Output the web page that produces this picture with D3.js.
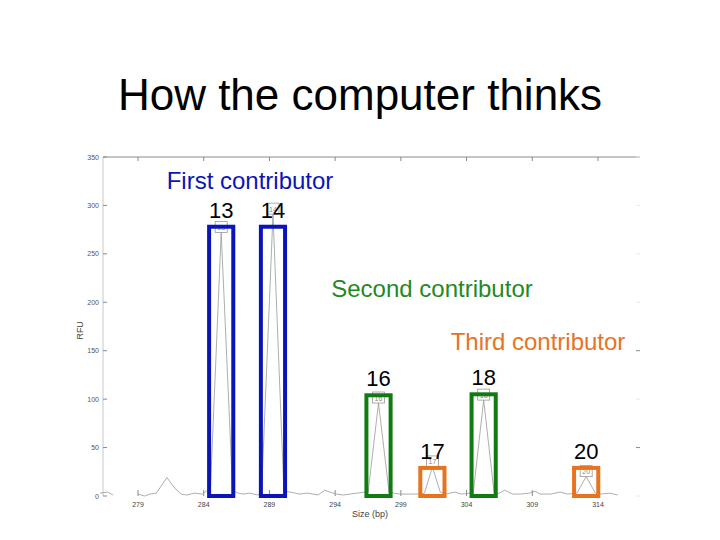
<!DOCTYPE html>
<html><head><meta charset="utf-8">
<script src="https://cdn.jsdelivr.net/npm/d3@7"></script>
<style>
html,body{margin:0;padding:0;background:#fff;}
svg{display:block;font-family:"Liberation Sans",Arial,sans-serif;}
</style></head>
<body><svg id="c" width="720" height="540"></svg>
<script>
// ---- data ----
const title = "How the computer thinks";
const xTicks = [279, 284, 289, 294, 299, 304, 309, 314];
const yTicks = [0, 50, 100, 150, 200, 250, 300, 350];
// electropherogram trace: size (bp) and RFU
const traceBp  = [276.1,276.7,277.1, 279.0,279.5,279.9,280.4,281.2,281.8,282.3,282.7,283.3,283.9,284.3,284.5,285.33,286.2,286.6,287.0,287.5,288.1,288.4,289.27,290.1,290.6,291.3,291.9,292.7,293.2,293.6,294.1,294.6,295.1,295.7,296.2,296.5,297.3,298.1,298.5,298.9,299.7,300.5,300.8,301.4,302.0,302.4,303.1,303.6,304.3,304.5,305.3,306.1,306.5,306.9,307.5,308.1,308.8,309.2,309.6,310.4,311.1,311.7,312.4,313.1,313.8,314.2,314.9,315.5];
const traceRfu = [3,4,1, 2,0,2,3,19,8,2,1,3,2,6,4,272,6,3,2,3,1,3,291,5,4,2,3,1,6,4,2,1,2,3,4,3,96,4,3,2,2,2,3,30,4,2,4,2,3,2,99,3,3,6,2,2,3,5,2,2,4,2,3,20,3,2,3,1];
const traceGaps = [2]; // index after which the trace is interrupted
// called alleles
const alleleNames = ["13","14","16","17","18","20"];
const alleleBp    = [285.33, 289.27, 297.3, 301.4, 305.3, 313.1];
const allelePeak  = [272, 291, 96, 30, 99, 20];
const boxTop      = [278, 278, 104, 29, 105, 29];
const alleleGroup = [0, 0, 1, 2, 1, 2];
const contributors = ["First contributor", "Second contributor", "Third contributor"];

// ---- drawing ----
const svg = d3.select("#c");
const x = d3.scaleLinear().domain([279, 314]).range([138, 598]);
const y = d3.scaleLinear().domain([0, 350]).range([496, 157]);
const xLeft = 103, xRight = 640;
const groupStroke = ["#0a14b8", "#127a12", "#e8731e"];
const groupText   = ["#0a14b8", "#1f8a1f", "#e8731e"];
const axisCol = "#8a8a8a";

svg.append("text").attr("x", 360).attr("y", 110).attr("text-anchor", "middle")
  .attr("font-size", 44).attr("fill", "#000").text(title);

// frame: top line and left line
svg.append("line").attr("x1", xLeft).attr("x2", xRight).attr("y1", y(350)).attr("y2", y(350))
  .attr("stroke", axisCol).attr("stroke-width", 1);
svg.append("line").attr("x1", xLeft).attr("x2", xLeft).attr("y1", y(350)).attr("y2", y(0))
  .attr("stroke", "#c8c8c8").attr("stroke-width", 1);

// y axis ticks + labels
const yAx = svg.append("g");
yTicks.forEach(t => {
  yAx.append("line").attr("x1", xLeft).attr("x2", xLeft + 4).attr("y1", y(t)).attr("y2", y(t))
    .attr("stroke", axisCol);
  yAx.append("line").attr("x1", xRight - 4).attr("x2", xRight).attr("y1", y(t)).attr("y2", y(t))
    .attr("stroke", t === 150 || t === 50 ? axisCol : "#e8e8e8");
  yAx.append("text").attr("x", xLeft - 4).attr("y", y(t) + 2.5).attr("text-anchor", "end")
    .attr("font-size", 7).attr("fill", "#555").text(t);
});
svg.append("text").attr("transform", "translate(83," + y(171) + ") rotate(-90)")
  .attr("text-anchor", "middle").attr("font-size", 9).attr("fill", "#444").text("RFU");

// x axis ticks + labels
const xAx = svg.append("g");
xTicks.forEach(t => {
  xAx.append("line").attr("x1", x(t)).attr("x2", x(t)).attr("y1", y(350)).attr("y2", y(350) + 4)
    .attr("stroke", axisCol);
  xAx.append("line").attr("x1", x(t)).attr("x2", x(t)).attr("y1", y(0)).attr("y2", y(0) - 6)
    .attr("stroke", axisCol);
  xAx.append("text").attr("x", x(t)).attr("y", y(0) + 11).attr("text-anchor", "middle")
    .attr("font-size", 7).attr("fill", "#444").text(t);
});
svg.append("text").attr("x", 370).attr("y", 517).attr("text-anchor", "middle")
  .attr("font-size", 9).attr("fill", "#444").text("Size (bp)");

// trace
const pts = traceBp.map((b, i) => ({b, r: traceRfu[i], i}));
const line = d3.line().x(d => x(d.b)).y(d => y(d.r));
let segs = [], cur = [];
pts.forEach(p => { cur.push(p); if (traceGaps.includes(p.i)) { segs.push(cur); cur = []; } });
segs.push(cur);
segs.forEach(s => svg.append("path").attr("d", line(s)).attr("fill", "none")
  .attr("stroke", "#999").attr("stroke-width", 0.8));

// small allele call boxes on peaks
alleleNames.forEach((n, i) => {
  const cx = x(alleleBp[i]), ty = y(allelePeak[i]);
  svg.append("rect").attr("x", cx - 6).attr("y", ty - 11).attr("width", 12).attr("height", 11)
    .attr("fill", "#fff").attr("fill-opacity", 0.5).attr("stroke", "#999").attr("stroke-width", 0.8);
  svg.append("text").attr("x", cx).attr("y", ty - 2.5).attr("text-anchor", "middle")
    .attr("font-size", 7).attr("fill", "#888").text(n);
});

// coloured contributor boxes
const halfW = 0.92;
alleleNames.forEach((n, i) => {
  const g = alleleGroup[i];
  svg.append("rect")
    .attr("x", x(alleleBp[i] - halfW)).attr("y", y(boxTop[i]))
    .attr("width", x(alleleBp[i] + halfW) - x(alleleBp[i] - halfW))
    .attr("height", y(0) - y(boxTop[i]))
    .attr("fill", "none").attr("stroke", groupStroke[g]).attr("stroke-width", 4);
  svg.append("text").attr("x", x(alleleBp[i])).attr("y", y(boxTop[i]) - 9)
    .attr("text-anchor", "middle").attr("font-size", 22).attr("fill", "#000").text(n);
});

// contributor labels
const labelPos = [[250, 189], [432, 297], [538, 350]];
contributors.forEach((c, i) => {
  svg.append("text").attr("x", labelPos[i][0]).attr("y", labelPos[i][1]).attr("text-anchor", "middle")
    .attr("font-size", 24).attr("fill", groupText[i]).text(c);
});
</script></body></html>
